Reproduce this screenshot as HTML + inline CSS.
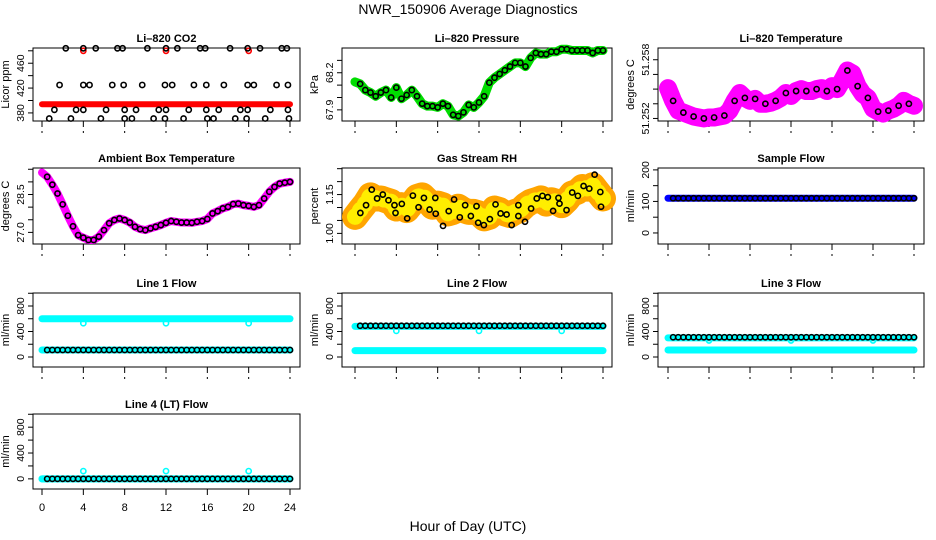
<!DOCTYPE html>
<html><head><meta charset="utf-8"><style>
body{margin:0;background:#fff;}
svg{display:block;font-family:"Liberation Sans",Arial,sans-serif;}
</style></head><body>
<svg id="c" width="936" height="540" viewBox="0 0 936 540" xmlns="http://www.w3.org/2000/svg">
<text x="468" y="14" text-anchor="middle" font-size="14">NWR_150906  Average Diagnostics</text>
<text x="468" y="531" text-anchor="middle" font-size="14">Hour of Day (UTC)</text>
</svg>
<script>
// ---- data ----
const halfHours = [0,0.5,1,1.5,2,2.5,3,3.5,4,4.5,5,5.5,6,6.5,7,7.5,8,8.5,9,9.5,10,10.5,11,11.5,12,12.5,13,13.5,14,14.5,15,15.5,16,16.5,17,17.5,18,18.5,19,19.5,20,20.5,21,21.5,22,22.5,23,23.5,24];
const co2BlackHours = [2.3,4.0,5.2,7.3,7.8,10.2,12.0,13.1,15.3,15.8,18.2,19.9,21.1,23.2,23.7, 1.7,4.0,4.6,6.8,7.9,9.7,11.9,12.6,14.7,15.9,17.6,19.9,20.5,22.7,23.8, 1.2,3.3,4.0,6.2,8.0,9.1,11.3,12.0,14.2,15.9,17.1,19.2,19.9,22.1,23.8, 0.7,2.8,5.7,8.0,8.7,10.8,11.9,13.7,16.0,16.6,18.7,19.8,21.6,23.9];
const co2BlackVals = [484,484,484,484,484,484,484,484,484,484,484,484,484,484,484, 425,425,425,425,425,425,425,425,425,425,425,425,425,425,425, 385,385,385,385,385,385,385,385,385,385,385,385,385,385,385, 371,371,371,371,371,371,371,371,371,371,371,371,371,371];
const co2RedHours = [0,24];
const co2RedVals = [394,394];
const co2OutHours = [4,12,20];
const co2OutVals = [480,480,480];
const pressVals = [68.126,68.11,68.06,68.04,68.01,68.04,68.06,68.0,68.08,67.99,68.02,68.06,68.01,67.95,67.93,67.93,67.92,67.95,67.93,67.86,67.85,67.88,67.94,67.92,67.96,68.01,68.12,68.16,68.19,68.22,68.25,68.28,68.28,68.25,68.32,68.36,68.35,68.35,68.37,68.37,68.39,68.39,68.38,68.38,68.38,68.38,68.36,68.38,68.38];
const tempVals = [51.2551,51.2538,51.2528,51.2526,51.2524,51.2522,51.2521,51.2520,51.2521,51.2521,51.2522,51.2523,51.2528,51.2538,51.2546,51.2541,51.2538,51.2540,51.2535,51.2535,51.2536,51.2538,51.2541,51.2546,51.2543,51.2548,51.2550,51.2548,51.2548,51.2550,51.2551,51.2548,51.2553,51.2550,51.2559,51.2569,51.2566,51.2553,51.2545,51.2541,51.2530,51.2527,51.2525,51.2528,51.2530,51.2533,51.2538,51.2535,51.2533];
const ambVals = [29.37,29.20,28.89,28.54,28.11,27.66,27.24,26.89,26.79,26.70,26.70,26.83,27.09,27.36,27.49,27.55,27.49,27.39,27.22,27.13,27.09,27.16,27.22,27.29,27.38,27.45,27.42,27.39,27.39,27.38,27.42,27.45,27.53,27.75,27.84,27.95,28.01,28.12,28.14,28.08,28.05,28.01,28.08,28.34,28.61,28.80,28.93,28.97,29.00];
const rhVals = [1.064,1.090,1.115,1.147,1.135,1.135,1.128,1.122,1.096,1.109,1.090,1.115,1.141,1.147,1.128,1.103,1.115,1.109,1.077,1.083,1.103,1.090,1.083,1.083,1.077,1.058,1.064,1.096,1.090,1.077,1.071,1.083,1.090,1.109,1.122,1.128,1.135,1.115,1.128,1.122,1.109,1.128,1.154,1.160,1.179,1.173,1.186,1.160,1.135];
const rhBlackHours = [0.52,1.07,1.62,2.14,2.69,3.24,3.82,3.92,4.53,5.05,5.60,6.15,6.67,7.22,7.77,7.81,8.52,9.07,9.59,10.14,10.66,11.21,11.76,11.92,12.47,13.05,13.60,14.09,14.67,15.16,15.81,15.81,16.45,17.04,17.59,18.14,18.66,19.17,19.69,19.79,20.47,21.02,21.57,22.12,22.67,23.19,23.74,23.81];
const rhBlackVals = [1.079,1.109,1.169,1.135,1.150,1.128,1.109,1.079,1.114,1.058,1.146,1.101,1.137,1.092,1.137,1.076,1.029,1.086,1.131,1.062,1.109,1.067,1.105,1.041,1.032,1.055,1.112,1.077,1.073,1.032,1.109,1.067,1.045,1.096,1.135,1.145,1.140,1.087,1.137,1.115,1.090,1.158,1.145,1.183,1.173,1.227,1.160,1.103];
const sampleLevel = [110,110];
const line1Levels = [600,110,110];
const line2Levels = [480,100,490];
const line3Levels = [300,110,310];
const line4Levels = [0,0,0];
const outHours = [4,12,20];
const line1Out = [530,530,530];
const line2Out = [410,410,410];
const line3Out = [260,260,260];
const line4Out = [120,120,120];
const xTicks = [0,4,8,12,16,20,24];

// ---- layout ----
const svg = document.getElementById('c');
const NS = 'http://www.w3.org/2000/svg';
const cols = [{l:33,r:300,x0:42,x1:290},{l:342,r:612,x0:355,x1:603},{l:658,r:924,x0:668,x1:914}];
const rows = [{t:48,b:121},{t:168,b:244},{t:293,b:367},{t:414,b:489}];
function mk(tag, attrs, parent){const e=document.createElementNS(NS,tag);for(const k in attrs)e.setAttribute(k,attrs[k]);(parent||svg).appendChild(e);return e;}

function panel(ci, ri, name, title, ylab, ymin, ymax, yticks, ylabels, showXLabels){
  const c=cols[ci], r=rows[ri];
  const g=mk('g',{});
  
  
  const X=h=>c.x0+(h/24)*(c.x1-c.x0);
  const Y=v=>r.b-(v-ymin)/(ymax-ymin)*(r.b-r.t);
  const t=mk('text',{x:(c.l+c.r)/2,y:r.t-6,'text-anchor':'middle','font-size':11,'font-weight':'bold'},g);
  t.textContent=title;
  
  
  mk('rect',{x:c.l,y:r.t,width:c.r-c.l,height:r.b-r.t,fill:'none',stroke:'#000','stroke-width':1},g);
  xTicks.forEach(h=>{
    mk('line',{x1:X(h),x2:X(h),y1:r.b,y2:r.b+6,stroke:'#000'},g);
    if(showXLabels){const tl=mk('text',{x:X(h),y:r.b+22,'text-anchor':'middle','font-size':11},g);tl.textContent=h;
      
      }
    else mk('line',{x1:X(h),x2:X(h),y1:r.b+10,y2:r.b+12,stroke:'#000'},g);
  });
  yticks.forEach((v,i)=>{
    const y=Y(v);
    mk('line',{x1:c.l-5,x2:c.l,y1:y,y2:y,stroke:'#000'},g);
    if(ylabels[i]){const tl=mk('text',{x:c.l-9,y:y,'text-anchor':'middle','font-size':10.5,transform:`rotate(-90 ${c.l-9} ${y})`},g);tl.textContent=ylabels[i];
      
      }
  });
  const yl=mk('text',{x:c.l-24,y:(r.t+r.b)/2,'text-anchor':'middle','font-size':11,transform:`rotate(-90 ${c.l-24} ${(r.t+r.b)/2})`},g);
  yl.textContent=ylab;
  
  
  return {g,X,Y};
}
function band(p,hs,vs,color,w,name){
  const pts=hs.map((h,i)=>p.X(h)+','+p.Y(vs[i])).join(' ');
  const e=mk('polyline',{points:pts,fill:'none',stroke:color,'stroke-width':w,'stroke-linejoin':'round','stroke-linecap':'round'},p.g);
  
  
  return e;
}
function circles(p,hs,vs,color,name,rad){
  hs.forEach((h,i)=>{
    const e=mk('circle',{cx:p.X(h),cy:p.Y(vs[i]),r:rad||2.6,fill:'none',stroke:color,'stroke-width':1.6},p.g);
    
    
  });
}
const everyHalf = halfHours.slice(1);
const fullHours=[0,24];

let p=panel(0,0,'co2-panel','Li\u2013820 CO2','Licor ppm',367,484.5,[380,400,420,440,460,480],['380','','420','','460','']);
band(p,co2RedHours,co2RedVals,'#ff0000',6,'co2-red-series');
circles(p,co2OutHours,co2OutVals,'#ff0000','co2-red-outlier');
circles(p,co2BlackHours,co2BlackVals,'#000','co2-black-point');

p=panel(1,0,'pressure-panel','Li\u2013820 Pressure','kPa',67.81,68.4,[67.9,68.0,68.1,68.2,68.3],['67.9','','','68.2','']);
band(p,halfHours,pressVals,'#00dd00',9,'pressure-green-series');
circles(p,everyHalf,pressVals.slice(1),'#000','pressure-black-point');

p=panel(2,0,'licor-temp-panel','Li\u2013820 Temperature','degrees C',51.25174,51.2592,[51.252,51.2535,51.255,51.2565,51.258],['51.252','','','','51.258']);
band(p,halfHours,tempVals,'#ff00ff',18,'licor-temp-magenta-series');
circles(p,halfHours.filter((h,i)=>i%2==1),tempVals.filter((v,i)=>i%2==1),'#000','licor-temp-black-point');

p=panel(0,1,'ambient-temp-panel','Ambient Box Temperature','degrees C',26.54,29.55,[27.0,27.5,28.0,28.5,29.0,29.5],['27.0','','','28.5','','']);
band(p,halfHours,ambVals,'#ff00ff',8,'ambient-magenta-series');
circles(p,everyHalf,ambVals.slice(1),'#000','ambient-black-point');

p=panel(1,1,'rh-panel','Gas Stream RH','percent',0.959,1.2526,[1.00,1.05,1.10,1.15,1.20,1.25],['1.00','','','1.15','','']);
band(p,halfHours,rhVals,'#ffa500',26,'rh-orange-series');
band(p,halfHours,rhVals,'#ffee00',16,'rh-yellow-dots').setAttribute('stroke-dasharray','1 7');
circles(p,rhBlackHours,rhBlackVals,'#000','rh-black-point');

p=panel(2,1,'sample-flow-panel','Sample Flow','ml/min',-35,206,[0,50,100,150,200],['0','','100','','200']);
band(p,fullHours,sampleLevel,'#0000ff',7,'sample-flow-blue-series');
circles(p,everyHalf,everyHalf.map(()=>sampleLevel[0]),'#000','sample-flow-black-point');

function flowPanel(ci,ri,name,title,lv,out,xl){
  const q=panel(ci,ri,name,title,'ml/min',-157,1004,[0,200,400,600,800,1000],['0','','400','','800',''],xl);
  band(q,fullHours,[lv[0],lv[0]],'#00ffff',7,name+'-cyan-high');
  band(q,fullHours,[lv[1],lv[1]],'#00ffff',7,name+'-cyan-low');
  circles(q,outHours,out,'#00ffff',name+'-cyan-outlier');
  circles(q,everyHalf,everyHalf.map(()=>lv[2]),'#000',name+'-black-point');
}
flowPanel(0,2,'line1-flow-panel','Line 1 Flow',line1Levels,line1Out,false);
flowPanel(1,2,'line2-flow-panel','Line 2 Flow',line2Levels,line2Out,false);
flowPanel(2,2,'line3-flow-panel','Line 3 Flow',line3Levels,line3Out,false);
flowPanel(0,3,'line4-flow-panel','Line 4 (LT) Flow',line4Levels,line4Out,true);
</script>
</body></html>
